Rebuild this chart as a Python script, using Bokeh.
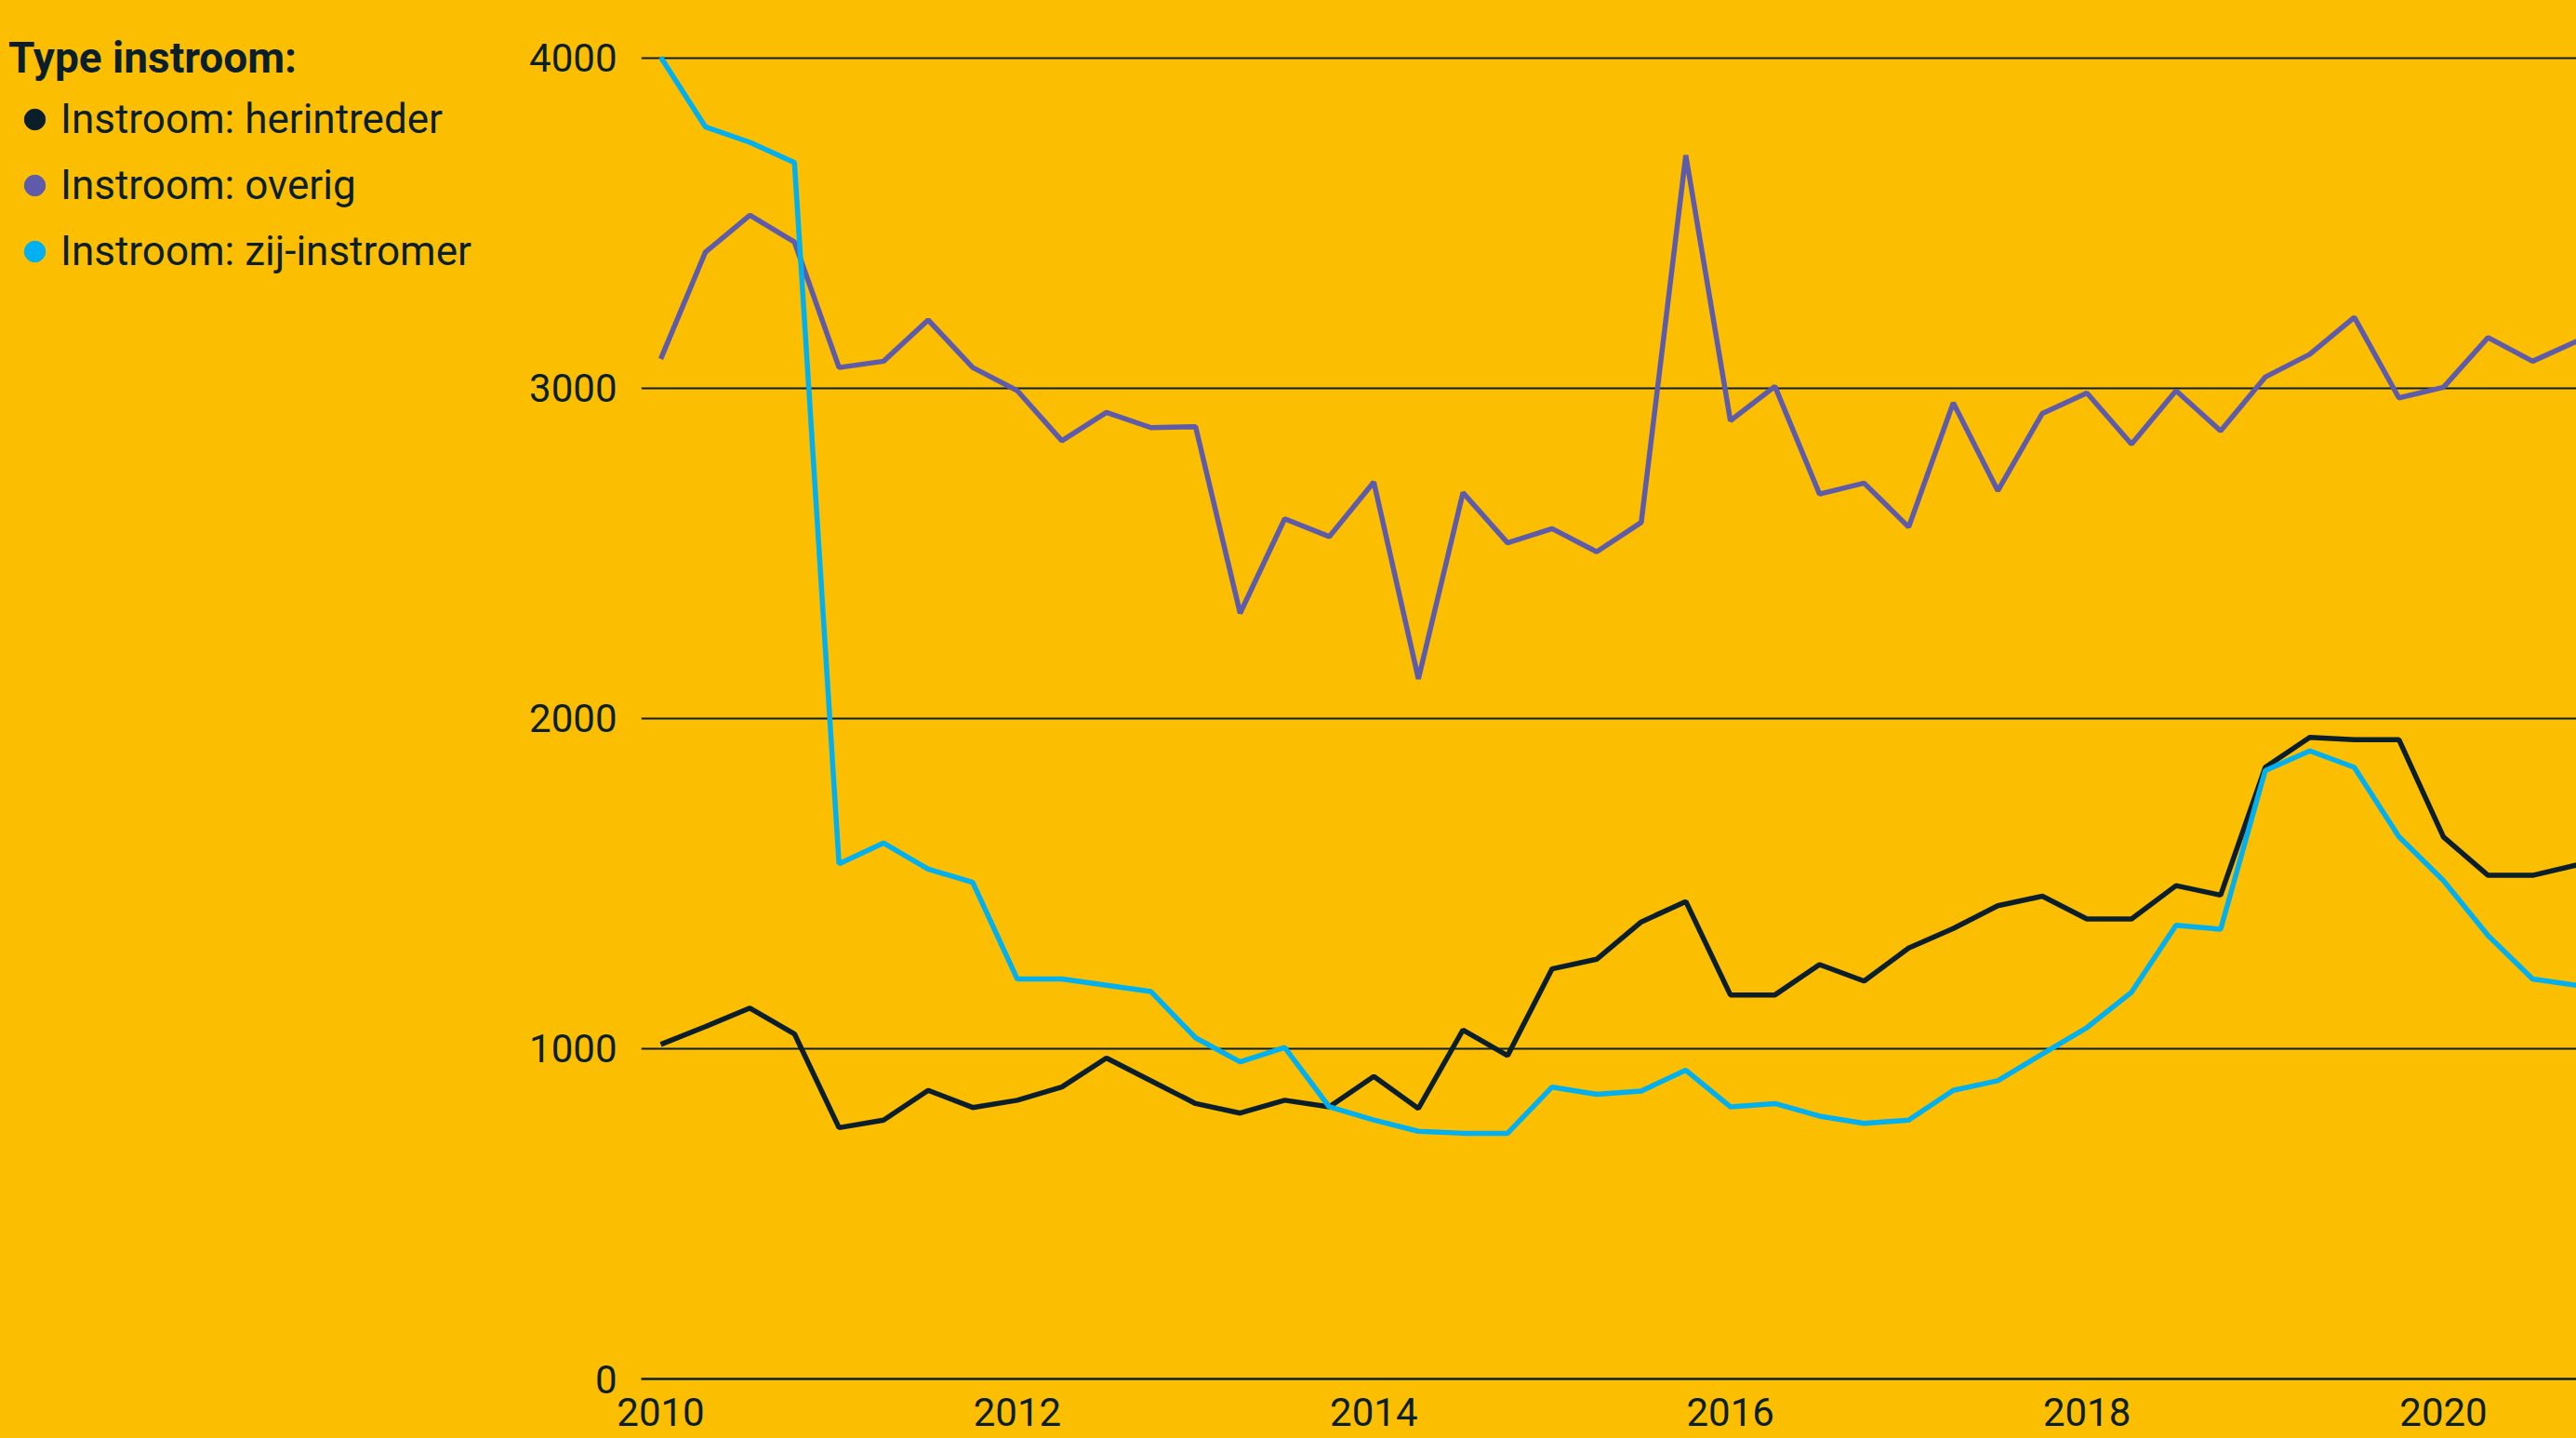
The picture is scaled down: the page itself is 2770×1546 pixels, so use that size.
from bokeh.plotting import figure
from bokeh.layouts import row
from bokeh.models import Range1d, FixedTicker, Legend, LegendItem, ColumnDataSource
from bokeh.embed import file_html
from bokeh.resources import INLINE
from bokeh.core.templates import get_env

# ---- data (quarterly, 2010 Q1 .. 2020 Q4) ----
years = list(range(2010, 2021))
quarters = [1, 2, 3, 4]
periods = [(y, q) for y in years for q in quarters]

herintreder = [1013, 1067, 1123, 1045, 761, 784, 874, 822, 844, 884,
               972, 903, 834, 805, 844, 824, 916, 819, 1057, 979,
               1242, 1271, 1384, 1446, 1163, 1163, 1255, 1205, 1305, 1364,
               1433, 1462, 1393, 1393, 1494, 1465, 1852, 1943, 1936, 1936,
               1641, 1525, 1525, 1557]
overig = [3089, 3412, 3524, 3443, 3063, 3082, 3207, 3063, 2993, 2841,
          2927, 2881, 2884, 2319, 2605, 2551, 2716, 2120, 2684, 2532,
          2575, 2505, 2594, 3706, 2902, 3006, 2680, 2713, 2580, 2956,
          2690, 2924, 2986, 2831, 2993, 2871, 3034, 3103, 3215, 2971,
          3003, 3154, 3082, 3143]
zij_instromer = [4003, 3792, 3745, 3684, 1560, 1623, 1544, 1504, 1211, 1211,
                 1192, 1173, 1033, 960, 1004, 824, 784, 750, 744, 744,
                 884, 862, 872, 935, 824, 834, 796, 774, 784, 874,
                 903, 984, 1064, 1171, 1374, 1362, 1842, 1902, 1852, 1642,
                 1509, 1343, 1211, 1192]

series_names = ["Instroom: herintreder", "Instroom: overig", "Instroom: zij-instromer"]

x_ticks = [2010, 2012, 2014, 2016, 2018, 2020]
x_tick_labels = ["2010", "2012", "2014", "2016", "2018", "2020"]
y_ticks = [0, 1000, 2000, 3000, 4000]
y_tick_labels = ["0", "1000", "2000", "3000", "4000"]
legend_title = "Type instroom:"

# ---- style ----
BG = "#FCBE00"
INK = "#0B1F2B"
COLORS = ["#0B1F2B", "#5E5BAA", "#00B0F0"]
FONT = "Roboto"

n = len(herintreder)
xs = [y + (q - 1) / 4 for (y, q) in periods][:n]
src = ColumnDataSource(dict(x=xs, h=herintreder, o=overig, z=zij_instromer))
cols = ["h", "o", "z"]

# ---- main chart ----
p = figure(width=2230, height=1546,
           x_range=Range1d(2009.8904, 2020.746), y_range=Range1d(0, 4174.6),
           output_backend="svg", toolbar_location=None,
           min_border_left=149, min_border_right=0, min_border_top=0, min_border_bottom=64)
p.background_fill_color = BG
p.border_fill_color = BG
p.outline_line_color = None

for col, c in zip(cols, COLORS):
    p.line("x", col, source=src, line_color=c, line_width=5.5)

p.xaxis.ticker = FixedTicker(ticks=x_ticks)
p.xaxis.major_label_overrides = {t: l for t, l in zip(x_ticks, x_tick_labels)}
p.yaxis.ticker = FixedTicker(ticks=y_ticks)
p.yaxis.major_label_overrides = {t: l for t, l in zip(y_ticks, y_tick_labels)}
for ax in (p.xaxis[0], p.yaxis[0]):
    ax.major_tick_line_color = None
    ax.minor_tick_line_color = None
    ax.major_label_text_font = FONT
    ax.major_label_text_font_size = "42px"
    ax.major_label_text_color = INK
p.xaxis.axis_line_color = INK
p.xaxis.axis_line_width = 2.5
p.xaxis.major_label_standoff = 14
p.yaxis.axis_line_color = None
p.yaxis.major_label_standoff = 20

p.xgrid.grid_line_color = None
p.ygrid.ticker = FixedTicker(ticks=y_ticks[1:])
p.ygrid.grid_line_color = INK
p.ygrid.grid_line_width = 1.8

# ---- legend panel ----
leg = figure(width=540, height=1546, x_axis_type=None, y_axis_type=None,
             output_backend="svg", toolbar_location=None,
             min_border=0)
leg.background_fill_color = BG
leg.border_fill_color = BG
leg.outline_line_color = None
items = []
for name, col, c in zip(series_names, cols, COLORS):
    r = leg.scatter("x", col, source=src, size=0, fill_color=c, line_color=c)
    items.append(LegendItem(label=name, renderers=[r]))

legend = Legend(items=items, location=(9, 1184), title=legend_title,
                glyph_width=56, glyph_height=56, label_standoff=-25, spacing=15,
                padding=0, margin=0, title_standoff=11,
                background_fill_alpha=0, border_line_alpha=0,
                label_text_font=FONT, label_text_font_size="44px", label_text_color=INK,
                title_text_font=FONT, title_text_font_size="46px",
                title_text_font_style="bold", title_text_color=INK)
leg.add_layout(legend)

layout = row(leg, p)

tmpl = get_env().from_string(
    '{% extends "file.html" %}{% block preamble %}<style>html, body {background-color: '
    + BG + '; margin: 0;}</style>{% endblock %}')

open("out.html", "w").write(file_html(layout, INLINE, template=tmpl))
